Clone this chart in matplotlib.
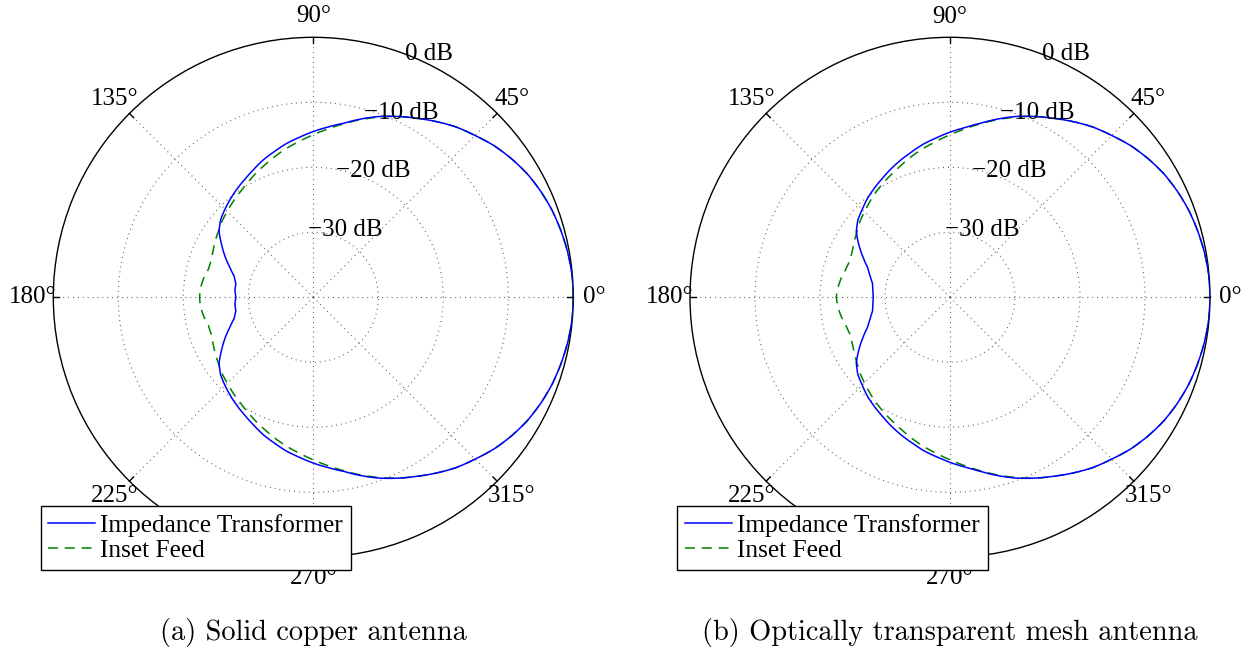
import numpy as np
import matplotlib
matplotlib.use('Agg')
import matplotlib.pyplot as plt

plt.rcParams['font.family'] = ['Liberation Serif', 'DejaVu Serif']

# ---- data (upper half of pattern, angles in degrees; pattern is mirror-symmetric) ----
angles_half = [0, 5, 10, 15, 20, 25, 30, 35, 40, 45, 50, 55, 60, 65, 70, 75, 80, 85,
               90, 95, 100, 105, 110, 115, 120, 125, 130, 135, 140, 145, 150, 155,
               160, 165, 170, 175, 180]

a_transformer = [0.0, -0.05, -0.25, -0.55, -0.9, -1.4, -2.0, -2.8, -3.7, -4.8, -5.8,
                 -7.0, -8.2, -9.3, -10.4, -11.6, -12.8, -13.7, -14.5, -15.3, -16.0,
                 -16.8, -17.5, -18.3, -19.0, -19.6, -20.2, -20.8, -21.4, -22.3, -23.7,
                 -25.0, -26.3, -27.4, -27.9, -27.9, -28.1]
a_inset = [0.0, -0.05, -0.25, -0.55, -0.9, -1.4, -2.0, -2.8, -3.7, -4.8, -5.8,
           -7.0, -8.2, -9.3, -10.5, -11.7, -12.9, -14.0, -15.0, -15.9, -16.7,
           -17.5, -18.3, -19.0, -19.7, -20.3, -20.8, -21.3, -21.7, -22.2, -22.6,
           -23.0, -23.3, -23.3, -22.9, -22.6, -22.5]

b_transformer = [0.0, -0.05, -0.25, -0.55, -0.9, -1.4, -2.0, -2.8, -3.7, -4.8, -5.8,
                 -7.0, -8.2, -9.3, -10.4, -11.6, -12.8, -13.8, -14.6, -15.4, -16.1,
                 -16.9, -17.6, -18.3, -19.0, -19.6, -20.2, -20.9, -21.5, -22.4, -23.8,
                 -25.2, -26.5, -27.3, -27.9, -28.1, -28.2]
b_inset = [0.0, -0.05, -0.25, -0.55, -0.9, -1.4, -2.0, -2.8, -3.7, -4.8, -5.8,
           -7.0, -8.2, -9.3, -10.5, -11.7, -12.9, -14.0, -15.0, -15.9, -16.7,
           -17.5, -18.3, -19.0, -19.6, -20.2, -20.8, -21.4, -21.9, -22.5, -23.0,
           -23.4, -23.6, -23.4, -23.0, -22.7, -22.5]

series_labels = ['Impedance Transformer', 'Inset Feed']
theta_ticks = [0, 45, 90, 135, 180, 225, 270, 315]
theta_ticklabels = ['0°', '45°', '90°', '135°', '180°', '225°', '270°', '315°']
r_rings = [-30, -20, -10, 0]
r_ringlabels = ['−30 dB', '−20 dB', '−10 dB', '0 dB']
captions = ['(a) Solid copper antenna', '(b) Optically transparent mesh antenna']

DB_MIN = -40.0


def full_pattern(angles, vals):
    th = list(angles) + [360 - a for a in reversed(angles[:-1])]
    v = list(vals) + list(reversed(vals[:-1]))
    return np.deg2rad(th), np.clip(np.array(v) - DB_MIN, 0, None)


W, H = 1250, 649
fig = plt.figure(figsize=(W / 100, H / 100), dpi=100)
fig.patch.set_facecolor('white')

R_PX = 260.0
centers = [(313.3, 297.3), (950.0, 297.3)]
data = [(a_transformer, a_inset), (b_transformer, b_inset)]

for (cx, cy), (blue, green), cap in zip(centers, data, captions):
    rect = [(cx - R_PX) / W, (H - cy - R_PX) / H, 2 * R_PX / W, 2 * R_PX / H]
    ax = fig.add_axes(rect, projection='polar')
    ax.set_ylim(0, -DB_MIN)
    ax.set_xticks(np.deg2rad(theta_ticks))
    ax.set_xticklabels([])
    ax.set_yticks([r - DB_MIN for r in r_rings[:-1]])
    ax.set_yticklabels([])
    ax.tick_params(axis='both', length=0)
    ax.grid(True, linestyle=(0, (0.8, 3.6)), color='0.3', linewidth=0.8)
    ax.spines['polar'].set_linewidth(1.0)
    ax.spines['polar'].set_color('black')

    th, rb = full_pattern(angles_half, blue)
    _, rg = full_pattern(angles_half, green)
    l1, = ax.plot(th, rb, color='#0000FF', lw=1.1, zorder=4)
    l2, = ax.plot(th, rg, color='#007F00', lw=1.1, dashes=(6.5, 4.5), zorder=3)
    for ln in (l1, l2):
        ln.get_path()._interpolation_steps = 8  # draw segments as polar arcs

    # small ticks on outer circle
    for t in theta_ticks:
        ax.plot([np.deg2rad(t)] * 2, [39.1, 40.0], color='k', lw=1.0,
                clip_on=False, zorder=5)

    # angle labels
    for t, lab in zip(theta_ticks, theta_ticklabels):
        ax.text(np.deg2rad(t), 43.2, lab, ha='center', va='center',
                fontsize=18, clip_on=False, zorder=6)

    # dB labels
    for rr, lab in zip(r_rings, r_ringlabels):
        ax.text(np.deg2rad(64.6), rr - DB_MIN + 1.45, lab, ha='center', va='center',
                fontsize=18, clip_on=False, zorder=6)

    leg = ax.legend([l1, l2], series_labels, loc='upper left',
                    bbox_to_anchor=((cx - 272.6) / W, 1 - 506 / H),
                    bbox_transform=fig.transFigure, borderaxespad=0,
                    fontsize=18.3, frameon=True, fancybox=False, framealpha=1,
                    edgecolor='black', borderpad=0.3, labelspacing=0.1,
                    handlelength=1.85, handletextpad=0.2)
    leg.get_frame().set_linewidth(1.0)
    leg.set_zorder(10)

    fig.text(cx / W, 9 / H, cap, ha='center', va='baseline', fontsize=20.4,
             family=['cmr10', 'DejaVu Serif'])

fig.savefig('out.png', dpi=100)
